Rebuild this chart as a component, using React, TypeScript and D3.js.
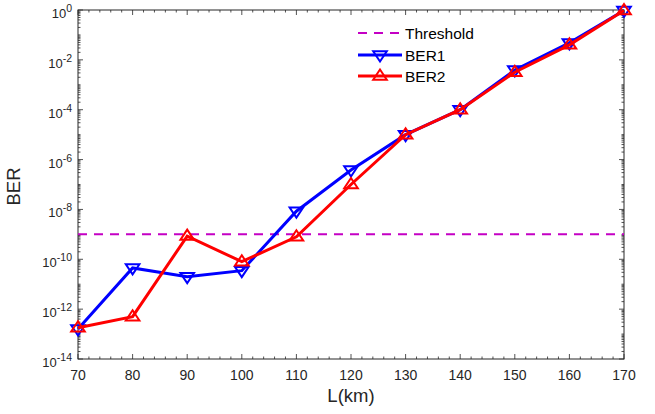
import React from 'react'
import * as d3 from 'd3'

// distance in km
const distances = [70, 80, 90, 100, 110, 120, 130, 140, 150, 160, 170]
// bit error rates
const ber1 = [1.6e-13, 4.5e-11, 2.0e-11, 3.5e-11, 8.5e-9, 3.8e-7, 1.0e-5, 1.0e-4, 3.9e-3, 4.8e-2, 0.95]
const ber2 = [1.8e-13, 5.0e-13, 8.5e-10, 8.0e-11, 8.0e-10, 1.0e-7, 1.0e-5, 1.0e-4, 3.2e-3, 4.0e-2, 0.95]
const threshold = 1e-9
const xTicks = [70, 80, 90, 100, 110, 120, 130, 140, 150, 160, 170]
const yTickExps = [0, -2, -4, -6, -8, -10, -12, -14]
const legendLabels = ['Threshold', 'BER1', 'BER2']

const W = 655
const H = 414
const margin = { top: 10, right: 31, bottom: 55, left: 78 }
const font = 'Liberation Sans, Arial, sans-serif'
const axisColor = '#262626'

export default function App () {
  const x = d3.scaleLinear().domain([70, 170]).range([margin.left, W - margin.right])
  const y = d3.scaleLog().domain([1e-14, 1]).range([H - margin.bottom, margin.top])
  const [x0, x1] = x.range()
  const [y0, y1] = y.range()

  const minorX = d3.range(70, 171, 2).filter(v => v % 10 !== 0)
  const minorY: number[] = []
  for (let e = -14; e < 0; e++) {
    for (let k = 1; k < 10; k++) {
      const v = k * Math.pow(10, e)
      if (!(k === 1 && e % 2 === 0)) minorY.push(v)
    }
  }

  const line = d3.line<number>()
    .x((d, i) => x(distances[i]))
    .y(d => y(d))

  const tri = (cx: number, cy: number, down: boolean, s = 6.8) => {
    const dir = down ? 1 : -1
    return `M${cx - s},${cy - dir * s * 0.55}L${cx + s},${cy - dir * s * 0.55}L${cx},${cy + dir * s * 0.95}Z`
  }

  const lx = 358
  const ly = [33, 55, 76]

  return (
    <svg width={W} height={H} style={{ position: 'absolute', left: 0, top: 0, background: '#fff' }}
      fontFamily={font}>
      <rect x={0} y={0} width={W} height={H} fill="#fff" />

      {/* minor ticks */}
      <g stroke={axisColor} strokeWidth={0.8}>
        {minorX.map(v => (
          <g key={'mx' + v}>
            <line x1={x(v)} x2={x(v)} y1={y0} y2={y0 - 2.5} />
            <line x1={x(v)} x2={x(v)} y1={y1} y2={y1 + 2.5} />
          </g>
        ))}
        {minorY.map((v, i) => (
          <g key={'my' + i}>
            <line x1={x0} x2={x0 + 2.5} y1={y(v)} y2={y(v)} />
            <line x1={x1} x2={x1 - 2.5} y1={y(v)} y2={y(v)} />
          </g>
        ))}
        {xTicks.map(v => (
          <g key={'tx' + v}>
            <line x1={x(v)} x2={x(v)} y1={y0} y2={y0 - 5} />
            <line x1={x(v)} x2={x(v)} y1={y1} y2={y1 + 5} />
          </g>
        ))}
        {yTickExps.map(e => (
          <g key={'ty' + e}>
            <line x1={x0} x2={x0 + 5} y1={y(Math.pow(10, e))} y2={y(Math.pow(10, e))} />
            <line x1={x1} x2={x1 - 5} y1={y(Math.pow(10, e))} y2={y(Math.pow(10, e))} />
          </g>
        ))}
      </g>
      <rect x={x0} y={y1} width={x1 - x0} height={y0 - y1} fill="none" stroke={axisColor} strokeWidth={1} />

      {/* tick labels */}
      <g fill={axisColor} fontSize={14}>
        {xTicks.map(v => (
          <text key={'lx' + v} x={x(v)} y={y0 + 21} textAnchor="middle">{v}</text>
        ))}
        {yTickExps.map(e => (
          <text key={'ly' + e} x={x0 - 6} y={y(Math.pow(10, e)) + 8} textAnchor="end" fontSize={13}>
            10<tspan fontSize={10.5} dy={-6}>{e}</tspan>
          </text>
        ))}
      </g>

      {/* axis titles */}
      <text x={(x0 + x1) / 2} y={402} textAnchor="middle" fontSize={18.5} fill={axisColor}>L(km)</text>
      <text transform={`translate(20,${(y0 + y1) / 2 + 2}) rotate(-90)`} textAnchor="middle" fontSize={18.5} fill={axisColor}>BER</text>

      {/* threshold */}
      <line x1={x0} x2={x1} y1={y(threshold)} y2={y(threshold)} stroke="#c400c4" strokeWidth={2} strokeDasharray="9,7" />

      {/* series */}
      <path d={line(ber1) || ''} fill="none" stroke="#0000ff" strokeWidth={3} />
      {ber1.map((v, i) => (
        <path key={'m1' + i} d={tri(x(distances[i]), y(v), true)} fill="none" stroke="#0000ff" strokeWidth={2} />
      ))}
      <path d={line(ber2) || ''} fill="none" stroke="#ff0000" strokeWidth={3} />
      {ber2.map((v, i) => (
        <path key={'m2' + i} d={tri(x(distances[i]), y(v), false)} fill="none" stroke="#ff0000" strokeWidth={2} />
      ))}

      {/* legend */}
      <g fontSize={15.5} fill="#000">
        <line x1={lx} x2={lx + 44} y1={ly[0]} y2={ly[0]} stroke="#c400c4" strokeWidth={2} strokeDasharray="9,7" />
        <text x={lx + 47} y={ly[0] + 5.5}>{legendLabels[0]}</text>
        <line x1={lx} x2={lx + 44} y1={ly[1]} y2={ly[1]} stroke="#0000ff" strokeWidth={3} />
        <path d={tri(lx + 22, ly[1], true)} fill="none" stroke="#0000ff" strokeWidth={2} />
        <text x={lx + 47} y={ly[1] + 5.5}>{legendLabels[1]}</text>
        <line x1={lx} x2={lx + 44} y1={ly[2]} y2={ly[2]} stroke="#ff0000" strokeWidth={3} />
        <path d={tri(lx + 22, ly[2], false)} fill="none" stroke="#ff0000" strokeWidth={2} />
        <text x={lx + 47} y={ly[2] + 5.5}>{legendLabels[2]}</text>
      </g>
    </svg>
  )
}
